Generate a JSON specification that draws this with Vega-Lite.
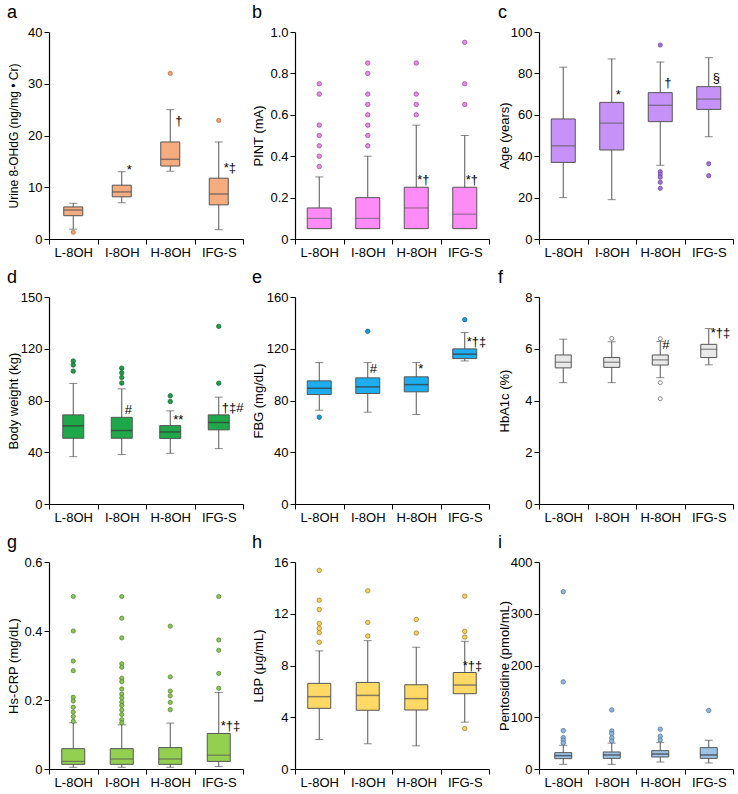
{
  "$schema": "https://vega.github.io/schema/vega-lite/v6.json",
  "padding": {"left": 7, "top": 4, "right": 0, "bottom": 0},
  "config": {
    "view": {"stroke": null},
    "font": "Liberation Sans",
    "concat": {"spacing": 8},
    "axis": {"domainColor": "#000", "tickColor": "#000", "labelColor": "#000", "titleColor": "#000", "labelFontSize": 13, "titleFontSize": 13, "titleFontWeight": "normal", "grid": false, "tickSize": 5, "labelPadding": 2, "labelFont": "Liberation Sans", "titleFont": "Liberation Sans", "domainWidth": 1.2, "tickWidth": 1},
    "axisX": {"labelAngle": 0, "tickBand": "extent"},
    "title": {"anchor": "start", "frame": "bounds", "fontSize": 18, "fontWeight": "normal", "font": "Liberation Sans", "color": "#000", "offset": 4}
  },
  "vconcat": [
    {"hconcat": [
      {"title": "a", "width": 194, "height": 207,
       "data": {"values": [
         {"g": "L-8OH", "lo": 1.9, "q1": 4.5, "med": 5.6, "q3": 6.2, "hi": 6.9},
         {"g": "I-8OH", "lo": 7.0, "q1": 8.15, "med": 9.1, "q3": 10.4, "hi": 13.0},
         {"g": "H-8OH", "lo": 13.1, "q1": 14.1, "med": 15.4, "q3": 18.75, "hi": 25.0},
         {"g": "IFG-S", "lo": 1.8, "q1": 6.6, "med": 8.7, "q3": 11.75, "hi": 18.75}]},
       "encoding": {"x": {"field": "g", "type": "nominal", "title": null, "scale": {"domain": ["L-8OH", "I-8OH", "H-8OH", "IFG-S"], "paddingInner": 0, "paddingOuter": 0}}},
       "layer": [
         {"mark": {"type": "rule", "color": "#555", "strokeWidth": 1},
          "encoding": {"y": {"field": "lo", "type": "quantitative", "title": "Urine 8-OHdG (ng/mg • Cr)", "scale": {"domain": [0, 40], "nice": false}, "axis": {"values": [0, 10, 20, 30, 40], "minExtent": 27, "maxExtent": 27, "titlePadding": 2, "titleFontSize": 12}}, "y2": {"field": "hi"}}},
         {"mark": {"type": "tick", "size": 8, "thickness": 1, "color": "#555"}, "encoding": {"y": {"field": "lo", "type": "quantitative", "title": "Urine 8-OHdG (ng/mg • Cr)"}}},
         {"mark": {"type": "tick", "size": 8, "thickness": 1, "color": "#555"}, "encoding": {"y": {"field": "hi", "type": "quantitative", "title": "Urine 8-OHdG (ng/mg • Cr)"}}},
         {"mark": {"type": "bar", "width": 19, "fill": "#F5AC7E", "stroke": "#555", "strokeWidth": 1}, "encoding": {"y": {"field": "q1", "type": "quantitative", "title": "Urine 8-OHdG (ng/mg • Cr)"}, "y2": {"field": "q3"}}},
         {"mark": {"type": "tick", "size": 19, "thickness": 1.5, "color": "#555"}, "encoding": {"y": {"field": "med", "type": "quantitative", "title": "Urine 8-OHdG (ng/mg • Cr)"}}},
         {"data": {"values": [{"g": "L-8OH", "v": 1.3}, {"g": "H-8OH", "v": 32.0}, {"g": "IFG-S", "v": 22.9}]},
          "mark": {"type": "circle", "size": 18, "fill": "#F0A070", "stroke": "#B0683A", "strokeWidth": 0.7, "opacity": 1},
          "encoding": {"y": {"field": "v", "type": "quantitative", "title": "Urine 8-OHdG (ng/mg • Cr)"}}},
         {"data": {"values": [{"g": "I-8OH", "y": 13.3, "t": "*"}, {"g": "H-8OH", "y": 22.8, "t": "†"}, {"g": "IFG-S", "y": 13.7, "t": "*‡"}]},
          "mark": {"type": "text", "align": "left", "baseline": "middle", "dx": 5, "fontSize": 13, "fill": "#000"},
          "encoding": {"y": {"field": "y", "type": "quantitative", "title": "Urine 8-OHdG (ng/mg • Cr)"}, "text": {"field": "t"}}}
       ]},
      {"title": "b", "width": 194, "height": 207,
       "data": {"values": [
         {"g": "L-8OH", "lo": 0.05, "q1": 0.05, "med": 0.10, "q3": 0.15, "hi": 0.30},
         {"g": "I-8OH", "lo": 0.05, "q1": 0.05, "med": 0.10, "q3": 0.20, "hi": 0.40},
         {"g": "H-8OH", "lo": 0.05, "q1": 0.05, "med": 0.15, "q3": 0.25, "hi": 0.55},
         {"g": "IFG-S", "lo": 0.05, "q1": 0.05, "med": 0.12, "q3": 0.25, "hi": 0.50}]},
       "encoding": {"x": {"field": "g", "type": "nominal", "title": null, "scale": {"domain": ["L-8OH", "I-8OH", "H-8OH", "IFG-S"], "paddingInner": 0, "paddingOuter": 0}}},
       "layer": [
         {"mark": {"type": "rule", "color": "#555", "strokeWidth": 1},
          "encoding": {"y": {"field": "lo", "type": "quantitative", "title": "PINT (mA)", "scale": {"domain": [0, 1], "nice": false}, "axis": {"values": [0, 0.2, 0.4, 0.6, 0.8, 1.0], "labelExpr": "datum.value == 0 ? '0' : format(datum.value, '.1f')", "minExtent": 27, "maxExtent": 27, "titlePadding": 3}}, "y2": {"field": "hi"}}},
         {"mark": {"type": "tick", "size": 8, "thickness": 1, "color": "#555"}, "encoding": {"y": {"field": "hi", "type": "quantitative", "title": "PINT (mA)"}}},
         {"mark": {"type": "bar", "width": 24, "fill": "#FF8BF7", "stroke": "#555", "strokeWidth": 1}, "encoding": {"y": {"field": "q1", "type": "quantitative", "title": "PINT (mA)"}, "y2": {"field": "q3"}}},
         {"mark": {"type": "tick", "size": 24, "thickness": 1, "color": "#555"}, "encoding": {"y": {"field": "med", "type": "quantitative", "title": "PINT (mA)"}}},
         {"data": {"values": [
           {"g": "L-8OH", "v": 0.75}, {"g": "L-8OH", "v": 0.70}, {"g": "L-8OH", "v": 0.55}, {"g": "L-8OH", "v": 0.50}, {"g": "L-8OH", "v": 0.45}, {"g": "L-8OH", "v": 0.40}, {"g": "L-8OH", "v": 0.35},
           {"g": "I-8OH", "v": 0.85}, {"g": "I-8OH", "v": 0.80}, {"g": "I-8OH", "v": 0.70}, {"g": "I-8OH", "v": 0.65}, {"g": "I-8OH", "v": 0.60}, {"g": "I-8OH", "v": 0.55}, {"g": "I-8OH", "v": 0.50}, {"g": "I-8OH", "v": 0.45},
           {"g": "H-8OH", "v": 0.85}, {"g": "H-8OH", "v": 0.70}, {"g": "H-8OH", "v": 0.65}, {"g": "H-8OH", "v": 0.60},
           {"g": "IFG-S", "v": 0.95}, {"g": "IFG-S", "v": 0.75}, {"g": "IFG-S", "v": 0.65}]},
          "mark": {"type": "circle", "size": 20, "fill": "#E98AE9", "stroke": "#8E4A8E", "strokeWidth": 0.7, "opacity": 1},
          "encoding": {"y": {"field": "v", "type": "quantitative", "title": "PINT (mA)"}}},
         {"data": {"values": [{"g": "H-8OH", "y": 0.285, "t": "*†"}, {"g": "IFG-S", "y": 0.285, "t": "*†"}]},
          "mark": {"type": "text", "align": "left", "baseline": "middle", "dx": 1, "fontSize": 13, "fill": "#000"},
          "encoding": {"y": {"field": "y", "type": "quantitative", "title": "PINT (mA)"}, "text": {"field": "t"}}}
       ]},
      {"title": "c", "width": 194, "height": 207,
       "data": {"values": [
         {"g": "L-8OH", "lo": 20, "q1": 37, "med": 45, "q3": 58, "hi": 83},
         {"g": "I-8OH", "lo": 19, "q1": 43, "med": 56, "q3": 66, "hi": 87},
         {"g": "H-8OH", "lo": 35.6, "q1": 56.7, "med": 64.6, "q3": 70.7, "hi": 85.5},
         {"g": "IFG-S", "lo": 49.4, "q1": 62.6, "med": 67.6, "q3": 73.6, "hi": 87.6}]},
       "encoding": {"x": {"field": "g", "type": "nominal", "title": null, "scale": {"domain": ["L-8OH", "I-8OH", "H-8OH", "IFG-S"], "paddingInner": 0, "paddingOuter": 0}}},
       "layer": [
         {"mark": {"type": "rule", "color": "#555", "strokeWidth": 1},
          "encoding": {"y": {"field": "lo", "type": "quantitative", "title": "Age (years)", "scale": {"domain": [0, 100], "nice": false}, "axis": {"values": [0, 20, 40, 60, 80, 100], "minExtent": 26, "maxExtent": 26, "titlePadding": 2}}, "y2": {"field": "hi"}}},
         {"mark": {"type": "tick", "size": 8, "thickness": 1, "color": "#555"}, "encoding": {"y": {"field": "lo", "type": "quantitative", "title": "Age (years)"}}},
         {"mark": {"type": "tick", "size": 8, "thickness": 1, "color": "#555"}, "encoding": {"y": {"field": "hi", "type": "quantitative", "title": "Age (years)"}}},
         {"mark": {"type": "bar", "width": 24, "fill": "#C792F7", "stroke": "#555", "strokeWidth": 1}, "encoding": {"y": {"field": "q1", "type": "quantitative", "title": "Age (years)"}, "y2": {"field": "q3"}}},
         {"mark": {"type": "tick", "size": 24, "thickness": 1.2, "color": "#555"}, "encoding": {"y": {"field": "med", "type": "quantitative", "title": "Age (years)"}}},
         {"data": {"values": [
           {"g": "H-8OH", "v": 93.7}, {"g": "H-8OH", "v": 32.5}, {"g": "H-8OH", "v": 31.2}, {"g": "H-8OH", "v": 29.8}, {"g": "H-8OH", "v": 27.4}, {"g": "H-8OH", "v": 24.5},
           {"g": "IFG-S", "v": 36.4}, {"g": "IFG-S", "v": 30.6}]},
          "mark": {"type": "circle", "size": 18, "fill": "#A070D8", "stroke": "#6A449A", "strokeWidth": 0.7, "opacity": 1},
          "encoding": {"y": {"field": "v", "type": "quantitative", "title": "Age (years)"}}},
         {"data": {"values": [{"g": "I-8OH", "y": 69.7, "t": "*"}, {"g": "H-8OH", "y": 75.5, "t": "†"}, {"g": "IFG-S", "y": 78, "t": "§"}]},
          "mark": {"type": "text", "align": "left", "baseline": "middle", "dx": 4, "fontSize": 13, "fill": "#000"},
          "encoding": {"y": {"field": "y", "type": "quantitative", "title": "Age (years)"}, "text": {"field": "t"}}}
       ]}
    ]},
    {"hconcat": [
      {"title": "d", "width": 194, "height": 207,
       "data": {"values": [
         {"g": "L-8OH", "lo": 36.6, "q1": 50.8, "med": 60.4, "q3": 68.9, "hi": 93.2},
         {"g": "I-8OH", "lo": 38.2, "q1": 50.8, "med": 56.8, "q3": 67, "hi": 89},
         {"g": "H-8OH", "lo": 39.2, "q1": 50.6, "med": 55.7, "q3": 60.6, "hi": 72},
         {"g": "IFG-S", "lo": 42.8, "q1": 57.3, "med": 63, "q3": 68.9, "hi": 82.6}]},
       "encoding": {"x": {"field": "g", "type": "nominal", "title": null, "scale": {"domain": ["L-8OH", "I-8OH", "H-8OH", "IFG-S"], "paddingInner": 0, "paddingOuter": 0}}},
       "layer": [
         {"mark": {"type": "rule", "color": "#555", "strokeWidth": 1},
          "encoding": {"y": {"field": "lo", "type": "quantitative", "title": "Body weight (kg)", "scale": {"domain": [0, 160], "nice": false}, "axis": {"values": [0, 40, 80, 120, 160], "labelExpr": "datum.value == 160 ? '150' : datum.label", "minExtent": 27, "maxExtent": 27, "titlePadding": 2}}, "y2": {"field": "hi"}}},
         {"mark": {"type": "tick", "size": 8, "thickness": 1, "color": "#555"}, "encoding": {"y": {"field": "lo", "type": "quantitative", "title": "Body weight (kg)"}}},
         {"mark": {"type": "tick", "size": 8, "thickness": 1, "color": "#555"}, "encoding": {"y": {"field": "hi", "type": "quantitative", "title": "Body weight (kg)"}}},
         {"mark": {"type": "bar", "width": 21, "fill": "#1FA84A", "stroke": "#555", "strokeWidth": 1}, "encoding": {"y": {"field": "q1", "type": "quantitative", "title": "Body weight (kg)"}, "y2": {"field": "q3"}}},
         {"mark": {"type": "tick", "size": 21, "thickness": 1.5, "color": "#333"}, "encoding": {"y": {"field": "med", "type": "quantitative", "title": "Body weight (kg)"}}},
         {"data": {"values": [
           {"g": "L-8OH", "v": 110.5}, {"g": "L-8OH", "v": 107.4}, {"g": "L-8OH", "v": 102.7},
           {"g": "I-8OH", "v": 105}, {"g": "I-8OH", "v": 101.4}, {"g": "I-8OH", "v": 97.8}, {"g": "I-8OH", "v": 93.5},
           {"g": "H-8OH", "v": 83.6}, {"g": "H-8OH", "v": 79.2},
           {"g": "IFG-S", "v": 137.3}, {"g": "IFG-S", "v": 93.4}]},
          "mark": {"type": "circle", "size": 20, "fill": "#1E9A48", "stroke": "#10682E", "strokeWidth": 0.7, "opacity": 1},
          "encoding": {"y": {"field": "v", "type": "quantitative", "title": "Body weight (kg)"}}},
         {"data": {"values": [{"g": "I-8OH", "y": 72.8, "t": "#"}, {"g": "H-8OH", "y": 65.3, "t": "**"}, {"g": "IFG-S", "y": 74.3, "t": "†‡#"}]},
          "mark": {"type": "text", "align": "left", "baseline": "middle", "dx": 3, "fontSize": 13, "fill": "#000"},
          "encoding": {"y": {"field": "y", "type": "quantitative", "title": "Body weight (kg)"}, "text": {"field": "t"}}}
       ]},
      {"title": "e", "width": 194, "height": 207,
       "data": {"values": [
         {"g": "L-8OH", "lo": 72.5, "q1": 84.6, "med": 89.5, "q3": 95.2, "hi": 109.3},
         {"g": "I-8OH", "lo": 71, "q1": 85.4, "med": 90.5, "q3": 97.5, "hi": 109.3},
         {"g": "H-8OH", "lo": 69.2, "q1": 86.7, "med": 92.3, "q3": 98.3, "hi": 109.3},
         {"g": "IFG-S", "lo": 110.6, "q1": 112.4, "med": 115.8, "q3": 119.9, "hi": 132.5}]},
       "encoding": {"x": {"field": "g", "type": "nominal", "title": null, "scale": {"domain": ["L-8OH", "I-8OH", "H-8OH", "IFG-S"], "paddingInner": 0, "paddingOuter": 0}}},
       "layer": [
         {"mark": {"type": "rule", "color": "#555", "strokeWidth": 1},
          "encoding": {"y": {"field": "lo", "type": "quantitative", "title": "FBG (mg/dL)", "scale": {"domain": [0, 160], "nice": false}, "axis": {"values": [0, 40, 80, 120, 160], "minExtent": 27, "maxExtent": 27, "titlePadding": 3}}, "y2": {"field": "hi"}}},
         {"mark": {"type": "tick", "size": 8, "thickness": 1, "color": "#555"}, "encoding": {"y": {"field": "lo", "type": "quantitative", "title": "FBG (mg/dL)"}}},
         {"mark": {"type": "tick", "size": 8, "thickness": 1, "color": "#555"}, "encoding": {"y": {"field": "hi", "type": "quantitative", "title": "FBG (mg/dL)"}}},
         {"mark": {"type": "bar", "width": 24, "fill": "#1EAEEF", "stroke": "#555", "strokeWidth": 1}, "encoding": {"y": {"field": "q1", "type": "quantitative", "title": "FBG (mg/dL)"}, "y2": {"field": "q3"}}},
         {"mark": {"type": "tick", "size": 24, "thickness": 1.5, "color": "#333"}, "encoding": {"y": {"field": "med", "type": "quantitative", "title": "FBG (mg/dL)"}}},
         {"data": {"values": [{"g": "L-8OH", "v": 67.1}, {"g": "I-8OH", "v": 133.5}, {"g": "IFG-S", "v": 142.5}]},
          "mark": {"type": "circle", "size": 20, "fill": "#1A98D8", "stroke": "#0C5C88", "strokeWidth": 0.7, "opacity": 1},
          "encoding": {"y": {"field": "v", "type": "quantitative", "title": "FBG (mg/dL)"}}},
         {"data": {"values": [{"g": "I-8OH", "y": 104.4, "t": "#"}, {"g": "H-8OH", "y": 104.4, "t": "*"}, {"g": "IFG-S", "y": 125.5, "t": "*†‡"}]},
          "mark": {"type": "text", "align": "left", "baseline": "middle", "dx": 2, "fontSize": 13, "fill": "#000"},
          "encoding": {"y": {"field": "y", "type": "quantitative", "title": "FBG (mg/dL)"}, "text": {"field": "t"}}}
       ]},
      {"title": "f", "width": 194, "height": 207,
       "data": {"values": [
         {"g": "L-8OH", "lo": 4.69, "q1": 5.26, "med": 5.48, "q3": 5.76, "hi": 6.37},
         {"g": "I-8OH", "lo": 4.69, "q1": 5.28, "med": 5.48, "q3": 5.66, "hi": 6.27},
         {"g": "H-8OH", "lo": 4.88, "q1": 5.37, "med": 5.57, "q3": 5.76, "hi": 6.28},
         {"g": "IFG-S", "lo": 5.38, "q1": 5.66, "med": 5.98, "q3": 6.17, "hi": 6.78}]},
       "encoding": {"x": {"field": "g", "type": "nominal", "title": null, "scale": {"domain": ["L-8OH", "I-8OH", "H-8OH", "IFG-S"], "paddingInner": 0, "paddingOuter": 0}}},
       "layer": [
         {"mark": {"type": "rule", "color": "#555", "strokeWidth": 1},
          "encoding": {"y": {"field": "lo", "type": "quantitative", "title": "HbA1c (%)", "scale": {"domain": [0, 8], "nice": false}, "axis": {"values": [0, 2, 4, 6, 8], "minExtent": 26, "maxExtent": 26, "titlePadding": 2}}, "y2": {"field": "hi"}}},
         {"mark": {"type": "tick", "size": 8, "thickness": 1, "color": "#555"}, "encoding": {"y": {"field": "lo", "type": "quantitative", "title": "HbA1c (%)"}}},
         {"mark": {"type": "tick", "size": 8, "thickness": 1, "color": "#555"}, "encoding": {"y": {"field": "hi", "type": "quantitative", "title": "HbA1c (%)"}}},
         {"mark": {"type": "bar", "width": 16, "fill": "#E8E8E8", "stroke": "#555", "strokeWidth": 1}, "encoding": {"y": {"field": "q1", "type": "quantitative", "title": "HbA1c (%)"}, "y2": {"field": "q3"}}},
         {"mark": {"type": "tick", "size": 16, "thickness": 1.2, "color": "#555"}, "encoding": {"y": {"field": "med", "type": "quantitative", "title": "HbA1c (%)"}}},
         {"data": {"values": [{"g": "I-8OH", "v": 6.4}, {"g": "H-8OH", "v": 6.39}, {"g": "H-8OH", "v": 4.69}, {"g": "H-8OH", "v": 4.07}]},
          "mark": {"type": "point", "size": 16, "filled": false, "stroke": "#888", "strokeWidth": 1, "opacity": 1},
          "encoding": {"y": {"field": "v", "type": "quantitative", "title": "HbA1c (%)"}}},
         {"data": {"values": [{"g": "H-8OH", "y": 6.16, "t": "#"}, {"g": "IFG-S", "y": 6.59, "t": "*†‡"}]},
          "mark": {"type": "text", "align": "left", "baseline": "middle", "dx": 2, "fontSize": 13, "fill": "#000"},
          "encoding": {"y": {"field": "y", "type": "quantitative", "title": "HbA1c (%)"}, "text": {"field": "t"}}}
       ]}
    ]},
    {"hconcat": [
      {"title": "g", "width": 194, "height": 207,
       "data": {"values": [
         {"g": "L-8OH", "lo": 0.005, "q1": 0.0135, "med": 0.022, "q3": 0.059, "hi": 0.134},
         {"g": "I-8OH", "lo": 0.005, "q1": 0.0135, "med": 0.029, "q3": 0.059, "hi": 0.128},
         {"g": "H-8OH", "lo": 0.005, "q1": 0.0135, "med": 0.029, "q3": 0.062, "hi": 0.133},
         {"g": "IFG-S", "lo": 0.007, "q1": 0.022, "med": 0.040, "q3": 0.103, "hi": 0.222}]},
       "encoding": {"x": {"field": "g", "type": "nominal", "title": null, "scale": {"domain": ["L-8OH", "I-8OH", "H-8OH", "IFG-S"], "paddingInner": 0, "paddingOuter": 0}}},
       "layer": [
         {"mark": {"type": "rule", "color": "#555", "strokeWidth": 1},
          "encoding": {"y": {"field": "lo", "type": "quantitative", "title": "Hs-CRP (mg/dL)", "scale": {"domain": [0, 0.6], "nice": false}, "axis": {"values": [0, 0.2, 0.4, 0.6], "labelExpr": "datum.value == 0 ? '0' : format(datum.value, '.1f')", "minExtent": 27, "maxExtent": 27, "titlePadding": 2}}, "y2": {"field": "hi"}}},
         {"mark": {"type": "tick", "size": 8, "thickness": 1, "color": "#555"}, "encoding": {"y": {"field": "lo", "type": "quantitative", "title": "Hs-CRP (mg/dL)"}}},
         {"mark": {"type": "tick", "size": 8, "thickness": 1, "color": "#555"}, "encoding": {"y": {"field": "hi", "type": "quantitative", "title": "Hs-CRP (mg/dL)"}}},
         {"mark": {"type": "bar", "width": 23, "fill": "#93D050", "stroke": "#555", "strokeWidth": 1}, "encoding": {"y": {"field": "q1", "type": "quantitative", "title": "Hs-CRP (mg/dL)"}, "y2": {"field": "q3"}}},
         {"mark": {"type": "tick", "size": 23, "thickness": 1.2, "color": "#555"}, "encoding": {"y": {"field": "med", "type": "quantitative", "title": "Hs-CRP (mg/dL)"}}},
         {"data": {"values": [
           {"g": "L-8OH", "v": 0.50}, {"g": "L-8OH", "v": 0.40}, {"g": "L-8OH", "v": 0.313}, {"g": "L-8OH", "v": 0.285}, {"g": "L-8OH", "v": 0.208}, {"g": "L-8OH", "v": 0.197}, {"g": "L-8OH", "v": 0.179}, {"g": "L-8OH", "v": 0.165}, {"g": "L-8OH", "v": 0.152}, {"g": "L-8OH", "v": 0.138},
           {"g": "I-8OH", "v": 0.50}, {"g": "I-8OH", "v": 0.437}, {"g": "I-8OH", "v": 0.38}, {"g": "I-8OH", "v": 0.305}, {"g": "I-8OH", "v": 0.295}, {"g": "I-8OH", "v": 0.263}, {"g": "I-8OH", "v": 0.253}, {"g": "I-8OH", "v": 0.232}, {"g": "I-8OH", "v": 0.217}, {"g": "I-8OH", "v": 0.206}, {"g": "I-8OH", "v": 0.194}, {"g": "I-8OH", "v": 0.184}, {"g": "I-8OH", "v": 0.171}, {"g": "I-8OH", "v": 0.158}, {"g": "I-8OH", "v": 0.143}, {"g": "I-8OH", "v": 0.134},
           {"g": "H-8OH", "v": 0.414}, {"g": "H-8OH", "v": 0.267}, {"g": "H-8OH", "v": 0.226}, {"g": "H-8OH", "v": 0.212}, {"g": "H-8OH", "v": 0.193}, {"g": "H-8OH", "v": 0.172},
           {"g": "IFG-S", "v": 0.50}, {"g": "IFG-S", "v": 0.374}, {"g": "IFG-S", "v": 0.344}, {"g": "IFG-S", "v": 0.277}, {"g": "IFG-S", "v": 0.234}]},
          "mark": {"type": "circle", "size": 18, "fill": "#8BC652", "stroke": "#4C7A2C", "strokeWidth": 0.7, "opacity": 1},
          "encoding": {"y": {"field": "v", "type": "quantitative", "title": "Hs-CRP (mg/dL)"}}},
         {"data": {"values": [{"g": "IFG-S", "y": 0.125, "t": "*†‡"}]},
          "mark": {"type": "text", "align": "left", "baseline": "middle", "dx": 2, "fontSize": 13, "fill": "#000"},
          "encoding": {"y": {"field": "y", "type": "quantitative", "title": "Hs-CRP (mg/dL)"}, "text": {"field": "t"}}}
       ]},
      {"title": "h", "width": 194, "height": 207,
       "data": {"values": [
         {"g": "L-8OH", "lo": 2.28, "q1": 4.69, "med": 5.59, "q3": 6.62, "hi": 9.13},
         {"g": "I-8OH", "lo": 1.95, "q1": 4.54, "med": 5.69, "q3": 6.69, "hi": 9.92},
         {"g": "H-8OH", "lo": 1.79, "q1": 4.56, "med": 5.44, "q3": 6.51, "hi": 9.41},
         {"g": "IFG-S", "lo": 3.62, "q1": 5.82, "med": 6.49, "q3": 7.46, "hi": 9.87}]},
       "encoding": {"x": {"field": "g", "type": "nominal", "title": null, "scale": {"domain": ["L-8OH", "I-8OH", "H-8OH", "IFG-S"], "paddingInner": 0, "paddingOuter": 0}}},
       "layer": [
         {"mark": {"type": "rule", "color": "#555", "strokeWidth": 1},
          "encoding": {"y": {"field": "lo", "type": "quantitative", "title": "LBP (μg/mL)", "scale": {"domain": [0, 16], "nice": false}, "axis": {"values": [0, 4, 8, 12, 16], "minExtent": 27, "maxExtent": 27, "titlePadding": 3}}, "y2": {"field": "hi"}}},
         {"mark": {"type": "tick", "size": 8, "thickness": 1, "color": "#555"}, "encoding": {"y": {"field": "lo", "type": "quantitative", "title": "LBP (μg/mL)"}}},
         {"mark": {"type": "tick", "size": 8, "thickness": 1, "color": "#555"}, "encoding": {"y": {"field": "hi", "type": "quantitative", "title": "LBP (μg/mL)"}}},
         {"mark": {"type": "bar", "width": 23, "fill": "#FFD966", "stroke": "#555", "strokeWidth": 1}, "encoding": {"y": {"field": "q1", "type": "quantitative", "title": "LBP (μg/mL)"}, "y2": {"field": "q3"}}},
         {"mark": {"type": "tick", "size": 23, "thickness": 1.5, "color": "#555"}, "encoding": {"y": {"field": "med", "type": "quantitative", "title": "LBP (μg/mL)"}}},
         {"data": {"values": [
           {"g": "L-8OH", "v": 15.35}, {"g": "L-8OH", "v": 13.05}, {"g": "L-8OH", "v": 12.33}, {"g": "L-8OH", "v": 11.25}, {"g": "L-8OH", "v": 10.87}, {"g": "L-8OH", "v": 10.54}, {"g": "L-8OH", "v": 9.8},
           {"g": "I-8OH", "v": 13.77}, {"g": "I-8OH", "v": 11.33}, {"g": "I-8OH", "v": 10.28},
           {"g": "H-8OH", "v": 11.56}, {"g": "H-8OH", "v": 10.51},
           {"g": "IFG-S", "v": 13.36}, {"g": "IFG-S", "v": 10.64}, {"g": "IFG-S", "v": 10.2}, {"g": "IFG-S", "v": 3.13}]},
          "mark": {"type": "circle", "size": 20, "fill": "#F6CF5E", "stroke": "#9A7826", "strokeWidth": 0.7, "opacity": 1},
          "encoding": {"y": {"field": "v", "type": "quantitative", "title": "LBP (μg/mL)"}}},
         {"data": {"values": [{"g": "IFG-S", "y": 7.97, "t": "*†‡"}]},
          "mark": {"type": "text", "align": "left", "baseline": "middle", "dx": -2, "fontSize": 13, "fill": "#000"},
          "encoding": {"y": {"field": "y", "type": "quantitative", "title": "LBP (μg/mL)"}, "text": {"field": "t"}}}
       ]},
      {"title": "i", "width": 194, "height": 207,
       "data": {"values": [
         {"g": "L-8OH", "lo": 9, "q1": 20, "med": 25.8, "q3": 31.6, "hi": 45.8},
         {"g": "I-8OH", "lo": 9, "q1": 20.6, "med": 27.1, "q3": 32.9, "hi": 50},
         {"g": "H-8OH", "lo": 13.5, "q1": 23.2, "med": 29, "q3": 35.5, "hi": 51},
         {"g": "IFG-S", "lo": 11.6, "q1": 20.6, "med": 27.1, "q3": 41.3, "hi": 55.5}]},
       "encoding": {"x": {"field": "g", "type": "nominal", "title": null, "scale": {"domain": ["L-8OH", "I-8OH", "H-8OH", "IFG-S"], "paddingInner": 0, "paddingOuter": 0}}},
       "layer": [
         {"mark": {"type": "rule", "color": "#555", "strokeWidth": 1},
          "encoding": {"y": {"field": "lo", "type": "quantitative", "title": "Pentosidine (pmol/mL)", "scale": {"domain": [0, 400], "nice": false}, "axis": {"values": [0, 100, 200, 300, 400], "minExtent": 26, "maxExtent": 26, "titlePadding": 2}}, "y2": {"field": "hi"}}},
         {"mark": {"type": "tick", "size": 8, "thickness": 1, "color": "#555"}, "encoding": {"y": {"field": "lo", "type": "quantitative", "title": "Pentosidine (pmol/mL)"}}},
         {"mark": {"type": "tick", "size": 8, "thickness": 1, "color": "#555"}, "encoding": {"y": {"field": "hi", "type": "quantitative", "title": "Pentosidine (pmol/mL)"}}},
         {"mark": {"type": "bar", "width": 17, "fill": "#9DC3E6", "stroke": "#555", "strokeWidth": 1}, "encoding": {"y": {"field": "q1", "type": "quantitative", "title": "Pentosidine (pmol/mL)"}, "y2": {"field": "q3"}}},
         {"mark": {"type": "tick", "size": 17, "thickness": 1.5, "color": "#333"}, "encoding": {"y": {"field": "med", "type": "quantitative", "title": "Pentosidine (pmol/mL)"}}},
         {"data": {"values": [
           {"g": "L-8OH", "v": 342.6}, {"g": "L-8OH", "v": 168.4}, {"g": "L-8OH", "v": 74.2}, {"g": "L-8OH", "v": 60.6}, {"g": "L-8OH", "v": 55.5}, {"g": "L-8OH", "v": 50.3},
           {"g": "I-8OH", "v": 114.2}, {"g": "I-8OH", "v": 73.5}, {"g": "I-8OH", "v": 68.4}, {"g": "I-8OH", "v": 60}, {"g": "I-8OH", "v": 54},
           {"g": "H-8OH", "v": 76.8}, {"g": "H-8OH", "v": 63.2}, {"g": "H-8OH", "v": 56.1},
           {"g": "IFG-S", "v": 112.9}]},
          "mark": {"type": "circle", "size": 20, "fill": "#8EB6DC", "stroke": "#4E6E8E", "strokeWidth": 0.7, "opacity": 1},
          "encoding": {"y": {"field": "v", "type": "quantitative", "title": "Pentosidine (pmol/mL)"}}}
       ]}
    ]}
  ],
  "spacing": 10
}
